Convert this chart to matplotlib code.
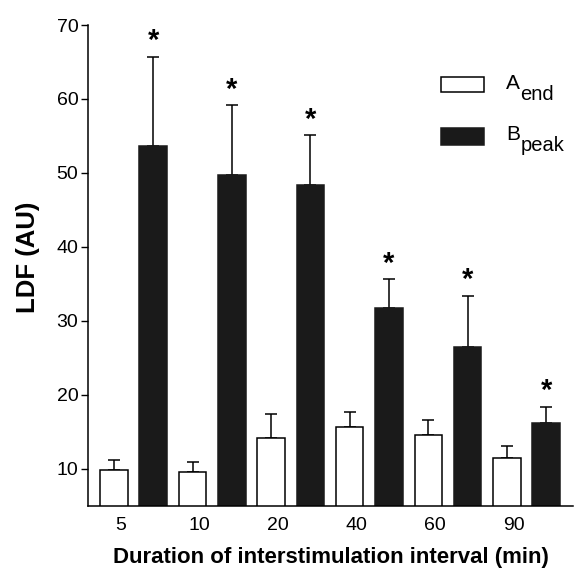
import matplotlib
matplotlib.use("Agg")
import matplotlib.pyplot as plt
import matplotlib.patches as mpatches
import numpy as np

plt.rcParams['font.family'] = ['Liberation Sans', 'DejaVu Sans']

# data
intervals = ['5', '10', '20', '40', '60', '90']
a_end = [9.8, 9.55, 14.15, 15.6, 14.5, 11.4]
a_err = [1.4, 1.4, 3.25, 2.1, 2.1, 1.7]
b_peak = [53.7, 49.7, 48.4, 31.8, 26.5, 16.2]
b_err = [12.0, 9.5, 6.7, 3.8, 6.9, 2.2]
signif = [True, True, True, True, True, True]

W, H = 581, 570
x = np.arange(len(intervals))
w = 0.35
dark = '#1a1a1a'

fig = plt.figure(figsize=(W / 100, H / 100), dpi=100)
ax = fig.add_axes([0.1515, 0.1128, 0.8345, 0.8433])

ax.bar(x - 0.25, a_end, w, color='white', edgecolor='black', linewidth=1.1, zorder=2)
ax.bar(x + 0.25, b_peak, w, color=dark, edgecolor=dark, linewidth=1.1, zorder=2)

# one-sided error bars
ax.errorbar(x - 0.25, a_end, yerr=[np.zeros(len(x)), a_err], fmt='none',
            ecolor='black', elinewidth=1.1, capsize=4.5, capthick=1.1, zorder=1)
ax.errorbar(x + 0.25, b_peak, yerr=[np.zeros(len(x)), b_err], fmt='none',
            ecolor='black', elinewidth=1.1, capsize=4.5, capthick=1.1, zorder=1)

for xi, v, e, s in zip(x, b_peak, b_err, signif):
    if s:
        ax.annotate('*', (xi + 0.25, v + e), xytext=(0, 1), textcoords='offset points',
                    ha='center', va='bottom', fontsize=21, fontweight='bold')

ax.set_ylim(5, 70)
ax.set_xlim(-0.58, 5.59)
ax.set_yticks([10, 20, 30, 40, 50, 60, 70])
ax.set_xticks(x - 0.16)
ax.set_xticklabels(intervals)
ax.tick_params(axis='y', direction='out', length=5, width=1, labelsize=14, pad=2)
ax.tick_params(axis='x', length=0, labelsize=14, pad=8)

ax.spines['top'].set_visible(False)
ax.spines['right'].set_visible(False)
ax.spines['left'].set_linewidth(1.1)
ax.spines['bottom'].set_linewidth(1.1)

ax.set_ylabel('LDF (AU)', fontsize=18.5, fontweight='bold')
ax.yaxis.set_label_coords(-0.10, 0.517)
ax.set_xlabel('Duration of interstimulation interval (min)', fontsize=16,
              fontweight='bold')
ax.xaxis.set_label_coords(0.502, -0.086)

# legend drawn by hand (subscripts nearly full size in the original)
def px(x0, y0):
    return x0 / W, 1 - y0 / H

legend_items = [('A', 'end', 'white', 'black', 77, 92, 89),
                ('B', 'peak', dark, dark, 128, 145, 140)]
for main, sub, fc, ec, top, bot, base in legend_items:
    x0, y0 = px(441, bot)
    fig.add_artist(mpatches.Rectangle((x0, y0), 43 / W, (bot - top) / H,
                                      facecolor=fc, edgecolor=ec, linewidth=1.1,
                                      transform=fig.transFigure))
    tx, ty = px(506, base)
    t = fig.text(tx, ty, main, fontsize=15, va='baseline', ha='left')
    ax.annotate(sub, xy=(1, 0), xycoords=t, xytext=(0.3, -8),
                textcoords='offset points', fontsize=14.5, va='bottom', ha='left',
                annotation_clip=False)

fig.savefig('out.png', dpi=100)
